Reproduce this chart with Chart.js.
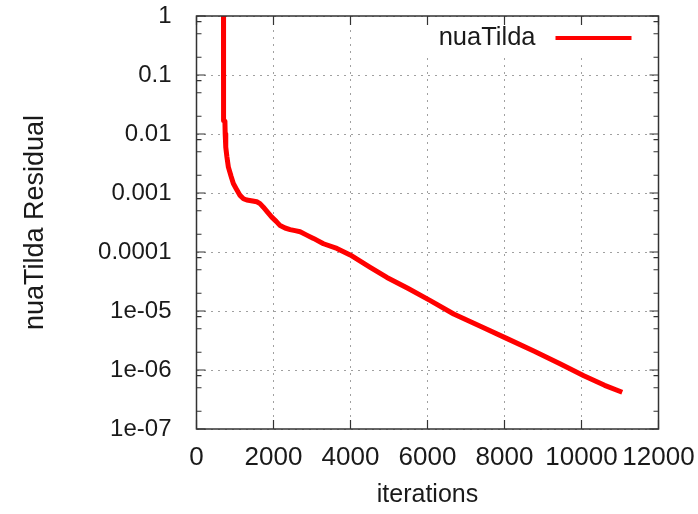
<!DOCTYPE html>
<html><head><meta charset="utf-8">
<script src="https://cdn.jsdelivr.net/npm/chart.js@4/dist/chart.umd.min.js"></script>
<style>html,body{margin:0;padding:0;background:#fff;}</style>
</head><body>
<canvas id="c" width="698" height="514"></canvas>
<script>
const seriesName = 'nuaTilda';
const xTitle = 'iterations';
const yTitle = 'nuaTilda Residual';
const iterations = [700, 703, 738, 745, 760, 790, 828, 900, 957, 1050, 1131, 1220, 1305, 1420, 1566, 1650, 1737, 1850, 1955, 2070, 2172, 2300, 2432, 2560, 2692, 2850, 3038, 3298, 3646, 3992, 4512, 4946, 5500, 6073, 6680, 7373, 8068, 8760, 9454, 10060, 10600, 11058];
const residuals = [5, 0.017, 0.0165, 0.01, 0.006, 0.0041, 0.00275, 0.0019, 0.00145, 0.00112, 0.00091, 0.0008, 0.00076, 0.00074, 0.00071, 0.00066, 0.000575, 0.00047, 0.00039, 0.00033, 0.00028, 0.000255, 0.00024, 0.00023, 0.00022, 0.000195, 0.00017, 0.000138, 0.000115, 0.000089, 0.000055, 0.000037, 0.000024, 0.000015, 0.0000089, 0.0000055, 0.0000034, 0.0000021, 0.00000126, 0.0000008, 0.00000055, 0.00000042];
const xTickValues = [0, 2000, 4000, 6000, 8000, 10000, 12000];
const xTickLabels = ['0', '2000', '4000', '6000', '8000', '10000', '12000'];
const yTickValues = [1, 0.1, 0.01, 0.001, 0.0001, 1e-5, 1e-6, 1e-7];
const yTickLabels = ['1', '0.1', '0.01', '0.001', '0.0001', '1e-05', '1e-06', '1e-07'];
const yMinorFactors = [2, 5, 8];

const FONT = 'Liberation Sans, Arial, sans-serif';
const TEXT = '#1a1a1a';

const framePlugin = {
  id: 'frame',
  afterDraw(chart) {
    const {ctx, chartArea: a, scales: {x, y}} = chart;
    ctx.save();
    // key box (opaque)
    ctx.fillStyle = '#fff';
    ctx.fillRect(a.right - 236, a.top + 1, 235, 36);
    // key text + line sample
    ctx.font = '25.5px ' + FONT;
    ctx.fillStyle = TEXT;
    ctx.textAlign = 'right';
    ctx.textBaseline = 'middle';
    ctx.fillText(chart.data.datasets[0].label, a.right - 123, a.top + 22);
    ctx.strokeStyle = chart.data.datasets[0].borderColor;
    ctx.lineWidth = 4;
    ctx.beginPath();
    ctx.moveTo(a.right - 103, a.top + 22);
    ctx.lineTo(a.right - 27, a.top + 22);
    ctx.stroke();
    // border
    ctx.strokeStyle = '#333';
    ctx.lineWidth = 1.5;
    ctx.strokeRect(a.left, a.top, a.right - a.left, a.bottom - a.top);
    // ticks
    ctx.lineWidth = 1.2;
    ctx.beginPath();
    xTickValues.forEach(v => {
      const px = x.getPixelForValue(v);
      ctx.moveTo(px, a.bottom); ctx.lineTo(px, a.bottom - 9);
      ctx.moveTo(px, a.top); ctx.lineTo(px, a.top + 9);
    });
    yTickValues.forEach((v, i) => {
      const py = y.getPixelForValue(v);
      ctx.moveTo(a.left, py); ctx.lineTo(a.left + 9, py);
      ctx.moveTo(a.right, py); ctx.lineTo(a.right - 9, py);
      if (i < yTickValues.length - 1) {
        yMinorFactors.forEach(f => {
          const pm = y.getPixelForValue(v * f / 10);
          ctx.moveTo(a.left, pm); ctx.lineTo(a.left + 5, pm);
          ctx.moveTo(a.right, pm); ctx.lineTo(a.right - 5, pm);
        });
      }
    });
    ctx.stroke();
    ctx.restore();
  }
};

new Chart(document.getElementById('c'), {
  type: 'line',
  data: {
    datasets: [{
      label: seriesName,
      data: iterations.map((v, i) => ({x: v, y: residuals[i]})),
      borderColor: '#ff0000',
      borderWidth: 5,
      pointRadius: 0,
      tension: 0,
      borderJoinStyle: 'round',
      fill: false
    }]
  },
  options: {
    responsive: false,
    animation: false,
    devicePixelRatio: 1,
    layout: {padding: {left: 0, right: 39.5, top: 16, bottom: 0}},
    plugins: {legend: {display: false}, tooltip: {enabled: false}},
    scales: {
      x: {
        type: 'linear', min: 0, max: 12000,
        afterBuildTicks: s => { s.ticks = xTickValues.map(v => ({value: v})); },
        afterFit: s => { s.height = 85; s.paddingLeft = 0; s.paddingRight = 0; },
        ticks: {font: {family: FONT, size: 26}, color: TEXT, padding: 13, maxRotation: 0, autoSkip: false,
          callback: (v) => { const i = xTickValues.indexOf(v); return i >= 0 ? xTickLabels[i] : ''; }},
        grid: {color: '#a0a0a0', lineWidth: 1, drawTicks: false},
        border: {display: false, dash: [2, 5]},
        title: {display: true, text: xTitle, font: {family: FONT, size: 25}, color: TEXT, padding: {top: 0, bottom: 4}}
      },
      y: {
        type: 'logarithmic', min: 1e-7, max: 1,
        afterBuildTicks: s => { s.ticks = yTickValues.map(v => ({value: v})); },
        afterFit: s => { s.width = 196.5; s.paddingTop = 0; s.paddingBottom = 0; },
        ticks: {font: {family: FONT, size: 24}, color: TEXT, padding: 25, autoSkip: false,
          callback: (v) => { const i = yTickValues.findIndex(t => Math.abs(Math.log10(t) - Math.log10(v)) < 1e-6); return i >= 0 ? yTickLabels[i] : ''; }},
        grid: {color: '#a0a0a0', lineWidth: 1, drawTicks: false},
        border: {display: false, dash: [2, 5]},
        title: {display: true, text: yTitle, font: {family: FONT, size: 27}, color: TEXT, padding: {top: 19, bottom: 0}}
      }
    }
  },
  plugins: [framePlugin]
});
</script>
</body></html>
